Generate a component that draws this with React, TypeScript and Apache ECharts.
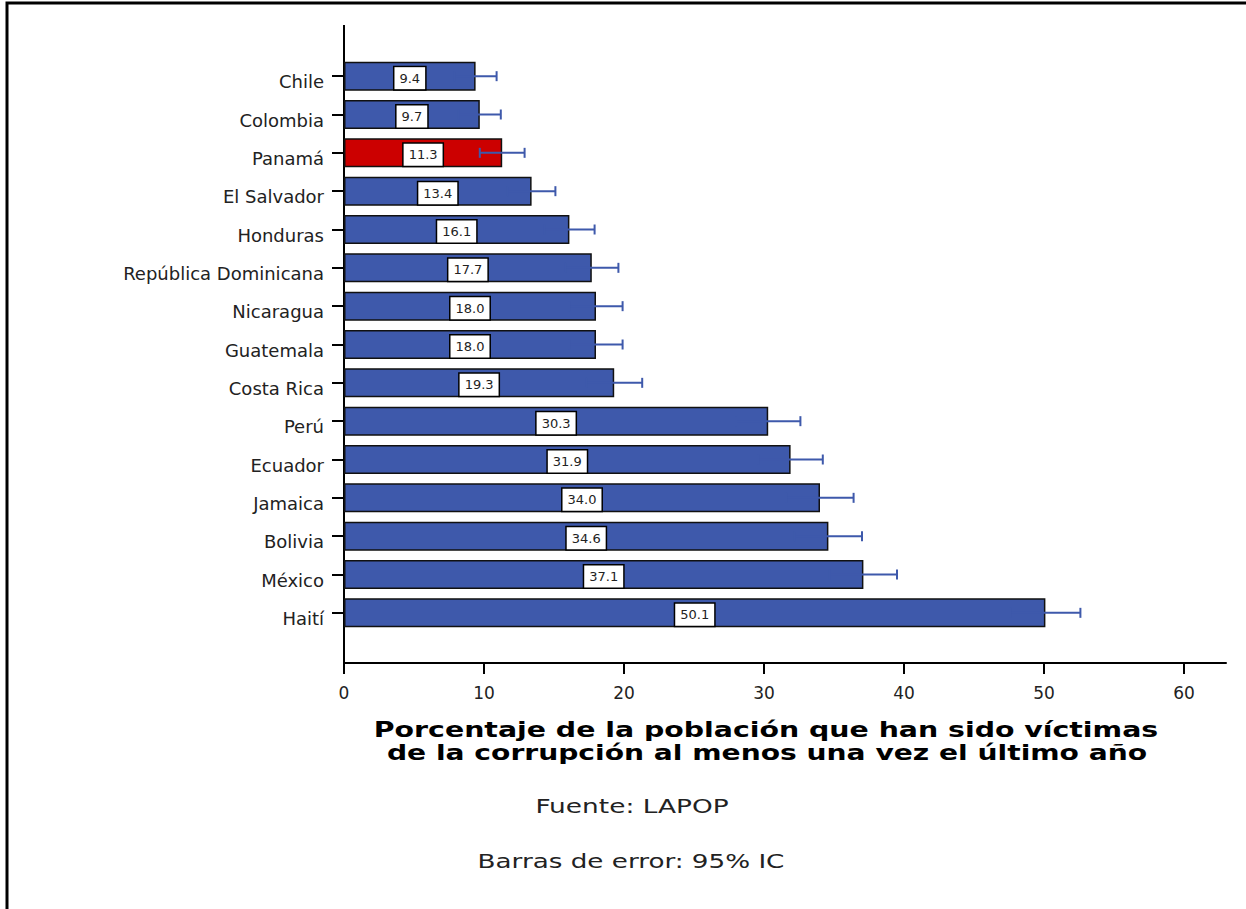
import React, { useEffect, useRef } from "react";
import * as echarts from "echarts";

const categories = [
  "Chile", "Colombia", "Panamá", "El Salvador", "Honduras", "República Dominicana",
  "Nicaragua", "Guatemala", "Costa Rica", "Perú", "Ecuador", "Jamaica", "Bolivia", "México", "Haití",
];
const values = [9.4, 9.7, 11.3, 13.4, 16.1, 17.7, 18.0, 18.0, 19.3, 30.3, 31.9, 34.0, 34.6, 37.1, 50.1];
const upperCI = [10.9, 11.2, 12.9, 15.1, 17.9, 19.6, 19.9, 19.9, 21.3, 32.6, 34.2, 36.4, 37.0, 39.5, 52.6];
const highlighted = "Panamá";
const xMin = 0;
const xMax = 63;
const xInterval = 10;
const titleLines = [
  "Porcentaje de la población que han sido víctimas",
  "de la corrupción al menos una vez el último año",
];
const sourceText = "Fuente: LAPOP";
const errorText = "Barras de error: 95% IC";

const BLUE = "#3E59AB";
const RED = "#CC0000";
const FONT = "DejaVu Sans";

export default function App() {
  const ref = useRef<HTMLDivElement>(null);
  useEffect(() => {
    if (!ref.current) return;
    const chart = echarts.init(ref.current, undefined, { renderer: "svg" });
    const errData = categories.map((c, i) => [2 * values[i] - upperCI[i], upperCI[i], i]);
    const textEl = (text: string, x: number, y: number, size: number, bold: boolean, sx: number) => ({
      type: "text",
      x,
      y,
      scaleX: sx,
      style: {
        text,
        fontFamily: FONT,
        fontSize: size,
        fontWeight: bold ? "bold" : "normal",
        fill: bold ? "#000" : "#222",
        textAlign: "center",
        textVerticalAlign: "middle",
      },
    });
    chart.setOption({
      animation: false,
      backgroundColor: "#fff",
      grid: { left: 344, right: 20, top: 57, bottom: 909 - 632 },
      xAxis: {
        type: "value",
        min: xMin,
        max: xMax,
        interval: xInterval,
        offset: 31,
        axisLine: { show: true, lineStyle: { color: "#000", width: 2 } },
        axisTick: { show: true, length: 11, lineStyle: { color: "#000", width: 2 } },
        axisLabel: {
          color: "#222",
          fontSize: 17,
          fontFamily: FONT,
          margin: 21,
          showMaxLabel: false,
          formatter: (v: number) => (v % 10 === 0 ? String(v) : ""),
        },
        splitLine: { show: false },
      },
      yAxis: {
        type: "category",
        data: categories,
        inverse: true,
        axisLine: { show: false },
        axisTick: { show: true, alignWithLabel: true, length: 12, lineStyle: { color: "#000", width: 2 } },
        axisLabel: {
          margin: 20,
          formatter: (v: string) => `{a|${v}}`,
          rich: {
            a: {
              color: "#222",
              fontSize: 18,
              fontFamily: FONT,
              padding: [11, 0, 0, 0],
            },
          },
        },
      },
      series: [
        {
          type: "bar",
          data: values.map((v, i) => ({
            value: v,
            itemStyle: { color: categories[i] === highlighted ? RED : BLUE },
          })),
          barWidth: 29,
          itemStyle: { borderColor: "#111", borderWidth: 1.5 },
          label: {
            show: true,
            position: "inside",
            offset: [0, 2],
            formatter: (p: any) => Number(p.value).toFixed(1),
            color: "#222",
            fontSize: 13,
            fontFamily: FONT,
            backgroundColor: "#fff",
            borderColor: "#000",
            borderWidth: 1.5,
            padding: [5, 5, 4, 5],
          },
          z: 2,
        },
        {
          type: "custom",
          data: errData,
          encode: { x: [0, 1], y: 2 },
          z: 3,
          renderItem: (params: any, api: any) => {
            const lo = api.value(0);
            const hi = api.value(1);
            const idx = api.value(2);
            const p1 = api.coord([lo, idx]);
            const p2 = api.coord([hi, idx]);
            const h = 5;
            const style = { stroke: BLUE, lineWidth: 2 };
            return {
              type: "group",
              children: [
                { type: "line", shape: { x1: p1[0], y1: p1[1], x2: p2[0], y2: p2[1] }, style },
                { type: "line", shape: { x1: p1[0], y1: p1[1] - h, x2: p1[0], y2: p1[1] + h }, style },
                { type: "line", shape: { x1: p2[0], y1: p2[1] - h, x2: p2[0], y2: p2[1] + h }, style },
              ],
            };
          },
        },
      ],
      graphic: [
        {
          type: "polyline",
          shape: { points: [[7, 909], [7, 3], [1246, 3]] },
          style: { stroke: "#000", lineWidth: 3, fill: null },
          silent: true,
        },
        {
          type: "line",
          shape: { x1: 344, y1: 25, x2: 344, y2: 664 },
          style: { stroke: "#000", lineWidth: 2 },
          silent: true,
        },
        textEl(titleLines[0], 766, 729, 22, true, 1.29),
        textEl(titleLines[1], 767, 753, 22, true, 1.28),
        textEl(sourceText, 632, 806, 20, false, 1.32),
        textEl(errorText, 631, 861, 20, false, 1.31),
      ],
    });
    return () => chart.dispose();
  }, []);
  return (
    <div
      ref={ref}
      style={{ position: "fixed", left: 0, top: 0, width: 1246, height: 909, background: "#fff" }}
    />
  );
}
